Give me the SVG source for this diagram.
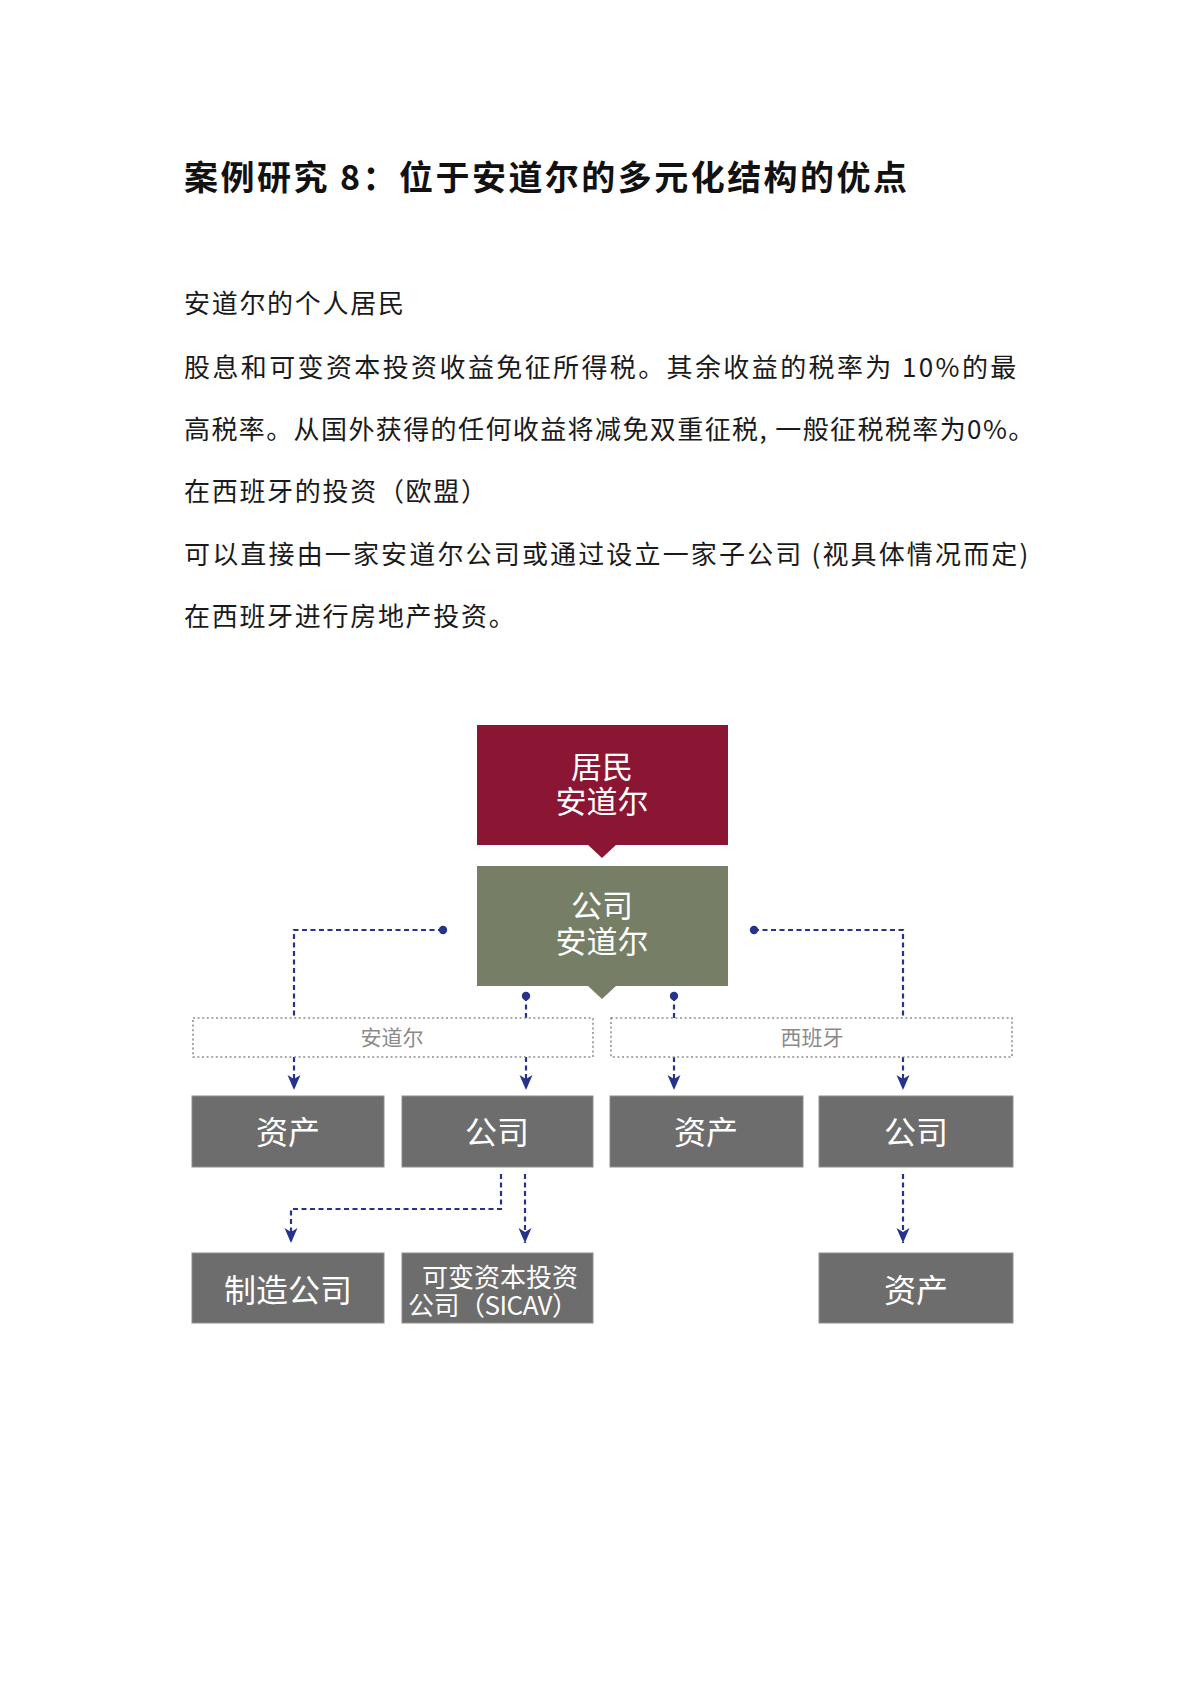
<svg xmlns="http://www.w3.org/2000/svg" width="1200" height="1697" viewBox="0 0 1200 1697">
<defs>
<style>
.title{font-family:"Noto Sans CJK SC","Noto Sans",sans-serif;font-weight:bold;font-size:34px;fill:#111}
.body{font-family:"Noto Sans CJK SC","Noto Sans",sans-serif;font-size:26px;fill:#1a1a1a;letter-spacing:1.7px}
.wt{font-family:"Noto Sans CJK SC","Noto Sans",sans-serif;fill:#fff;text-anchor:middle}
.lbl{font-family:"Noto Sans CJK SC","Noto Sans",sans-serif;font-size:21px;fill:#8a8a8a;text-anchor:middle}
.gbox{fill:#6d6d6d;stroke:#8e8e8e;stroke-width:1}
.dbox{fill:none;stroke:#8f8f8f;stroke-width:1.6;stroke-dasharray:2 2.6}
.con{fill:none;stroke:#26338a;stroke-width:2.2;stroke-dasharray:5 3.5}
.dot{fill:#26338a}
</style>
<marker id="arr" markerUnits="userSpaceOnUse" markerWidth="16" markerHeight="14" refX="15" refY="7" orient="auto" viewBox="0 0 16 14">
<path d="M0,0.5 L15,7 L0,13.5 L4,7 Z" fill="#26338a"/>
</marker>
</defs>
<rect width="1200" height="1697" fill="#fff"/>

<g id="text">
<text class="title" x="184" y="190" textLength="723">案例研究 8：位于安道尔的多元化结构的优点</text>
<text class="body" x="184" y="313">安道尔的个人居民</text>
<text class="body" x="184" y="377" textLength="834">股息和可变资本投资收益免征所得税。其余收益的税率为  10%的最</text>
<text class="body" x="184" y="439" textLength="852">高税率。从国外获得的任何收益将减免双重征税, 一般征税税率为0%。</text>
<text class="body" x="184" y="501">在西班牙的投资（欧盟）</text>
<text class="body" x="184" y="564" textLength="846">可以直接由一家安道尔公司或通过设立一家子公司 (视具体情况而定)</text>
<text class="body" x="184" y="626">在西班牙进行房地产投资。</text>
</g>

<g id="connectors">
<path class="con" d="M443,930 H294 V1018"/>
<path class="con" d="M754,930 H903 V1018"/>
<path class="con" d="M526,996 V1018"/>
<path class="con" d="M674,996 V1018"/>
<path class="con" d="M294,1057 V1090" marker-end="url(#arr)"/>
<path class="con" d="M526,1057 V1090" marker-end="url(#arr)"/>
<path class="con" d="M674,1057 V1090" marker-end="url(#arr)"/>
<path class="con" d="M903,1057 V1090" marker-end="url(#arr)"/>
<path class="con" d="M501,1174 V1209 H291 V1243" marker-end="url(#arr)"/>
<path class="con" d="M525,1174 V1243" marker-end="url(#arr)"/>
<path class="con" d="M903,1174 V1243" marker-end="url(#arr)"/>
<circle class="dot" cx="443" cy="930" r="4.2"/>
<circle class="dot" cx="754" cy="930" r="4.2"/>
<circle class="dot" cx="526" cy="996" r="4.2"/>
<circle class="dot" cx="674" cy="996" r="4.2"/>
</g>

<g id="resident">
<rect x="477" y="725" width="251" height="120" fill="#8b1633"/>
<polygon points="587,844 617,844 602,858" fill="#8b1633"/>
<text class="wt" x="602" y="778" font-size="31">居民</text>
<text class="wt" x="602" y="813" font-size="31">安道尔</text>
</g>

<g id="company-andorra">
<rect x="477" y="866" width="251" height="120" fill="#767e65"/>
<polygon points="587,985 617,985 602,999" fill="#767e65"/>
<text class="wt" x="602" y="917" font-size="31">公司</text>
<text class="wt" x="602" y="953" font-size="31">安道尔</text>
</g>

<g id="zone-andorra">
<rect class="dbox" x="193" y="1018" width="400" height="39"/>
<text class="lbl" x="392" y="1045">安道尔</text>
</g>

<g id="zone-spain">
<rect class="dbox" x="611" y="1018" width="401" height="39"/>
<text class="lbl" x="812" y="1045">西班牙</text>
</g>

<g id="asset-andorra">
<rect class="gbox" x="192" y="1096" width="192" height="71"/>
<text class="wt" x="288" y="1144" font-size="32">资产</text>
</g>

<g id="company-andorra-sub">
<rect class="gbox" x="402" y="1096" width="191" height="71"/>
<text class="wt" x="497" y="1144" font-size="32">公司</text>
</g>

<g id="asset-spain">
<rect class="gbox" x="610" y="1096" width="193" height="71"/>
<text class="wt" x="706" y="1144" font-size="32">资产</text>
</g>

<g id="company-spain">
<rect class="gbox" x="819" y="1096" width="194" height="71"/>
<text class="wt" x="916" y="1144" font-size="32">公司</text>
</g>

<g id="manufacturing">
<rect class="gbox" x="192" y="1253" width="192" height="70"/>
<text class="wt" x="288" y="1302" font-size="32">制造公司</text>
</g>

<g id="sicav">
<rect class="gbox" x="402" y="1253" width="191" height="70"/>
<text class="wt" x="422" y="1287" font-size="26" text-anchor="start" style="text-anchor:start">可变资本投资</text>
<text class="wt" x="408" y="1315" font-size="26" style="text-anchor:start" textLength="170">公司（SICAV）</text>
</g>

<g id="asset-spain-sub">
<rect class="gbox" x="819" y="1253" width="194" height="70"/>
<text class="wt" x="916" y="1302" font-size="32">资产</text>
</g>
</svg>
